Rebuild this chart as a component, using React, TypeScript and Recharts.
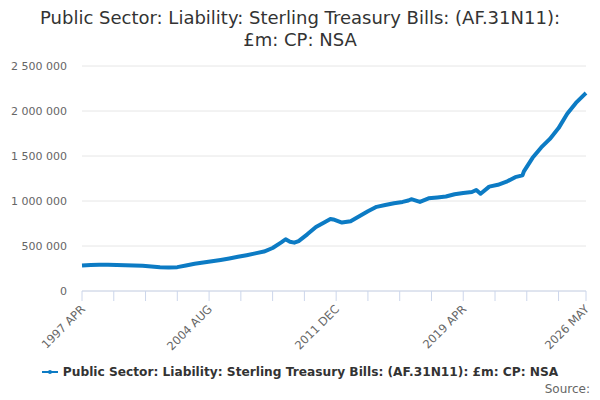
import { LineChart, Line, XAxis, YAxis, CartesianGrid } from 'recharts'

const periods = [
  '1997 APR', '1997 OCT', '1998 APR', '1998 OCT', '1999 APR', '1999 OCT',
  '2000 APR', '2000 OCT', '2001 APR', '2001 OCT', '2002 APR', '2002 OCT',
  '2003 APR', '2003 OCT', '2004 APR', '2004 OCT', '2005 APR', '2005 OCT',
  '2006 APR', '2006 OCT', '2007 APR', '2007 OCT', '2008 APR', '2008 OCT',
  '2009 JAN', '2009 APR', '2009 JUL', '2009 OCT', '2010 APR', '2010 OCT',
  '2011 APR', '2011 AUG', '2011 OCT', '2012 APR', '2012 OCT', '2013 APR',
  '2013 OCT', '2014 APR', '2014 OCT', '2015 APR', '2015 OCT', '2016 FEB',
  '2016 APR', '2016 OCT', '2017 APR', '2017 OCT', '2018 APR', '2018 OCT',
  '2019 APR', '2019 OCT', '2020 JAN', '2020 APR', '2020 OCT', '2021 APR',
  '2021 OCT', '2022 APR', '2022 SEP', '2022 OCT', '2023 APR', '2023 OCT',
  '2024 APR', '2024 OCT', '2025 APR', '2025 OCT', '2026 APR', '2026 MAY',
]

const values = [
  283000, 288000, 292000, 292000, 290000, 287000,
  284000, 280000, 272000, 263000, 260000, 265000,
  283000, 302000, 316000, 330000, 345000, 362000,
  380000, 398000, 418000, 438000, 478000, 540000,
  575000, 548000, 537000, 555000, 630000, 712000,
  765000, 800000, 795000, 760000, 775000, 830000,
  885000, 935000, 955000, 975000, 990000, 1005000,
  1020000, 990000, 1030000, 1040000, 1050000, 1075000,
  1090000, 1100000, 1122000, 1080000, 1160000, 1180000,
  1215000, 1265000, 1285000, 1330000, 1480000, 1595000,
  1690000, 1810000, 1970000, 2090000, 2185000, 2200000,
]

const xLabels = ['1997 APR', '2004 AUG', '2011 DEC', '2019 APR', '2026 MAY']
const yTicks = [0, 500000, 1000000, 1500000, 2000000, 2500000]

const seriesName = 'Public Sector: Liability: Sterling Treasury Bills: (AF.31N11): £m: CP: NSA'
const color = '#0c7bc4'
const font = '"DejaVu Sans", Verdana, sans-serif'

const MONTHS = ['JAN', 'FEB', 'MAR', 'APR', 'MAY', 'JUN', 'JUL', 'AUG', 'SEP', 'OCT', 'NOV', 'DEC']

// months since 1997 APR
function monthIndex(p: string): number {
  const [y, m] = p.split(' ')
  return (Number(y) - 1997) * 12 + MONTHS.indexOf(m) - 3
}

const data = periods.map((p, i) => ({ t: monthIndex(p), value: values[i] }))

const labelPos = xLabels.map(monthIndex)
const lastPos = labelPos[labelPos.length - 1]
const minorStep = (labelPos[1] - labelPos[0]) / 4
const xTicks: number[] = []
for (let t = 0; t < lastPos - 5; t += minorStep) xTicks.push(t)
xTicks.push(lastPos)

const labelFor = (t: number) => {
  const i = labelPos.indexOf(t)
  return i >= 0 ? xLabels[i] : ''
}

function fmt(n: number): string {
  return String(n).replace(/\B(?=(\d{3})+(?!\d))/g, ' ')
}

function XTick({ x, y, payload }: any) {
  const label = labelFor(payload.value)
  if (!label) return null
  const tx = x + 1
  const ty = y + 4
  return (
    <text
      x={tx}
      y={ty}
      dy="0.35em"
      textAnchor="end"
      transform={`rotate(-45 ${tx} ${ty})`}
      fill="#666666"
      fontSize={11.5}
      fontFamily={font}
    >
      {label}
    </text>
  )
}

export default function App() {
  return (
    <div style={{ position: 'absolute', left: 0, top: 0, width: 600, height: 400, background: '#fff', fontFamily: font }}>
      <div style={{ position: 'absolute', top: 7, left: 0, width: 600, textAlign: 'center', fontSize: 18, lineHeight: '22px', color: '#333333' }}>
        Public Sector: Liability: Sterling Treasury Bills: (AF.31N11):<br />£m: CP: NSA
      </div>
      <LineChart width={600} height={400} data={data} margin={{ top: 66, right: 14, bottom: 39, left: 8 }}>
        <CartesianGrid vertical={false} stroke="#e6e6e6" />
        <XAxis
          dataKey="t"
          type="number"
          domain={[0, lastPos]}
          ticks={xTicks}
          interval={0}
          height={70}
          tick={<XTick />}
          tickSize={10}
          axisLine={{ stroke: '#ccd6eb' }}
          tickLine={{ stroke: '#ccd6eb' }}
        />
        <YAxis
          domain={[0, 2500000]}
          ticks={yTicks}
          tickFormatter={fmt}
          width={74}
          axisLine={false}
          tickLine={false}
          tickMargin={9}
          tick={{ fill: '#666666', fontSize: 11, fontFamily: font }}
        />
        <Line
          dataKey="value"
          stroke={color}
          strokeWidth={4}
          strokeLinejoin="round"
          dot={false}
          isAnimationActive={false}
        />
      </LineChart>
      <div style={{ position: 'absolute', top: 365, left: 0, width: 600, display: 'flex', justifyContent: 'center', alignItems: 'center' }}>
        <svg width={16} height={10} style={{ marginRight: 5 }}>
          <line x1={0} y1={5} x2={16} y2={5} stroke={color} strokeWidth={2} />
          <circle cx={8} cy={5} r={2} fill={color} />
        </svg>
        <span style={{ fontSize: 12.2, fontWeight: 'bold', color: '#333333' }}>{seriesName}</span>
      </div>
      <div style={{ position: 'absolute', top: 382, right: 10, fontSize: 12, color: '#666666' }}>Source:</div>
    </div>
  )
}
